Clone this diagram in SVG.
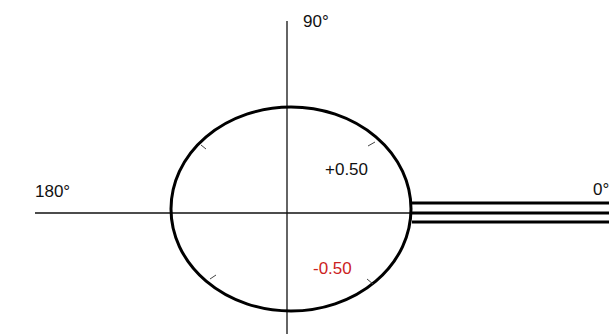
<svg xmlns="http://www.w3.org/2000/svg" width="609" height="336" viewBox="0 0 609 336">
<style>
.lbl{font-family:"Liberation Sans",Arial,sans-serif;font-size:17px;fill:#111}
.red{fill:#cc2222}
.axis{stroke:#111;stroke-width:1.3;fill:none}
.tick{stroke:#444;stroke-width:1;fill:none}
.bar{stroke:#000;stroke-width:3;fill:none}
</style>
<rect width="609" height="336" fill="#fff"/>
<g id="connectors">
<line class="axis" x1="35" y1="213" x2="413" y2="213"/>
<line class="axis" x1="287" y1="21" x2="287" y2="334"/>
<line class="bar" x1="412" y1="203" x2="609" y2="203"/>
<line class="bar" x1="412" y1="213" x2="609" y2="213"/>
<line class="bar" x1="412" y1="222" x2="609" y2="222"/>
</g>
<g id="ellipse">
<ellipse cx="291" cy="209" rx="120" ry="102" fill="none" stroke="#000" stroke-width="3"/>
<line class="tick" x1="201" y1="145" x2="206" y2="149" stroke="#a04040"/>
<line class="tick" x1="368" y1="146" x2="375" y2="142"/>
<line class="tick" x1="210" y1="279" x2="216" y2="275"/>
<line class="tick" x1="367" y1="279" x2="373" y2="284"/>
</g>
<g id="label-90"><text class="lbl" x="303" y="27">90°</text></g>
<g id="label-180"><text class="lbl" x="35" y="197">180°</text></g>
<g id="label-0"><text class="lbl" x="593" y="195">0°</text></g>
<g id="label-plus"><text class="lbl" x="325" y="175">+0.50</text></g>
<g id="label-minus"><text class="lbl red" x="313" y="274">-0.50</text></g>
</svg>
